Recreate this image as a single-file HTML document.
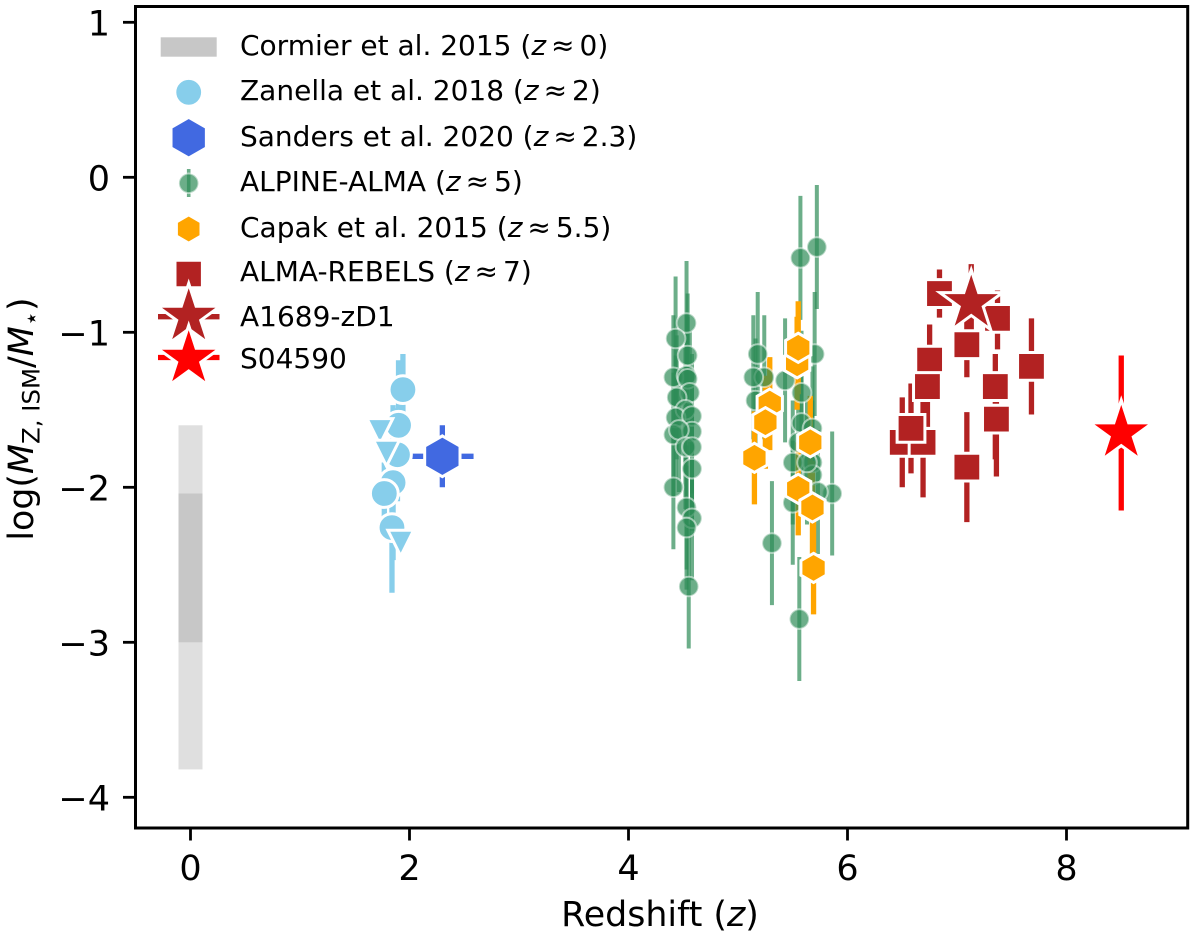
<!DOCTYPE html>
<html lang="en">
<head>
<meta charset="utf-8">
<title>Dust to stellar mass ratio vs redshift</title>
<style>
html,body{margin:0;padding:0;background:#fff;}
svg{display:block;}
text{font-family:"DejaVu Sans",sans-serif;fill:#000;}
.it{font-style:italic;}
</style>
</head>
<body>
<svg id="chart" xmlns="http://www.w3.org/2000/svg" width="1200" height="942" viewBox="0 0 1200 942">
  <rect x="0" y="0" width="1200" height="942" fill="#fff"/>
  <g id="bands"></g>
  <g id="errs"></g>
  <g id="marks"></g>
  <rect x="135.5" y="6.5" width="1052.2" height="821.5" fill="none" stroke="#000" stroke-width="3"/>
  <g id="ticks"></g>
  <text x="660" y="926" font-size="34.8" text-anchor="middle">Redshift (<tspan class="it">z</tspan>)</text>
  <text transform="translate(33,419) rotate(-90)" font-size="34.8" text-anchor="middle">log(<tspan class="it">M</tspan><tspan font-size="24.4" dy="6.5">Z, ISM</tspan><tspan dy="-6.5">/</tspan><tspan class="it">M</tspan><tspan font-size="24.4" dy="6.5">⋆</tspan><tspan dy="-6.5">)</tspan></text>
  <g id="legend-handles"></g>
  <g font-size="28">
    <text x="240" y="55">Cormier et al. 2015 (<tspan class="it">z</tspan><tspan dx="5">≈</tspan><tspan dx="5">0</tspan>)</text>
    <text x="240" y="100">Zanella et al. 2018 (<tspan class="it">z</tspan><tspan dx="5">≈</tspan><tspan dx="5">2</tspan>)</text>
    <text x="240" y="146">Sanders et al. 2020 (<tspan class="it">z</tspan><tspan dx="5">≈</tspan><tspan dx="5">2.3</tspan>)</text>
    <text x="240" y="191">ALPINE-ALMA (<tspan class="it">z</tspan><tspan dx="5">≈</tspan><tspan dx="5">5</tspan>)</text>
    <text x="240" y="237">Capak et al. 2015 (<tspan class="it">z</tspan><tspan dx="5">≈</tspan><tspan dx="5">5.5</tspan>)</text>
    <text x="240" y="281">ALMA-REBELS (<tspan class="it">z</tspan><tspan dx="5">≈</tspan><tspan dx="5">7</tspan>)</text>
    <text x="240" y="326">A1689-zD1</text>
    <text x="240" y="368">S04590</text>
  </g>
</svg>
<script>
// ---- chart data ----
const xTicks = [0, 2, 4, 6, 8];
const yTicks = [1, 0, -1, -2, -3, -4];

const cormierLow = [-3.0, -3.82];
const cormierHigh = [-1.6, -2.04];
const cormierZ = [0, 0];

const zanellaZ = [1.94, 1.90, 1.89, 1.85, 1.77, 1.84];
const zanellaY = [-1.37, -1.60, -1.79, -1.97, -2.04, -2.26];
const zanellaErr = [0.23, 0.42, 0.30, 0.50, 0.20, 0.42];
const zanellaLimitZ = [1.73, 1.79, 1.92];
const zanellaLimitY = [-1.64, -1.78, -2.36];

const sandersZ = [2.30];
const sandersY = [-1.80];
const sandersErrZ = [0.285];
const sandersErrY = [0.20];

const alpineZ = [4.53, 4.43, 4.54, 4.41, 4.53, 4.54, 4.56, 4.44, 4.52, 4.43, 4.58, 4.41, 4.58, 4.46, 4.52, 4.58, 4.58, 4.41, 4.53, 4.58, 4.53, 4.55,
                 5.18, 5.24, 5.14, 5.16, 5.57, 5.72, 5.70, 5.43, 5.58, 5.58, 5.68, 5.31, 5.56, 5.86, 5.68, 5.50, 5.68, 5.73, 5.55, 5.50, 5.63];
const alpineY = [-0.94, -1.04, -1.15, -1.29, -1.28, -1.30, -1.39, -1.42, -1.50, -1.55, -1.54, -1.66, -1.64, -1.63, -1.74, -1.74, -1.88, -2.00, -2.13, -2.20, -2.26, -2.64,
                 -1.14, -1.29, -1.29, -1.44, -0.52, -0.45, -1.14, -1.31, -1.39, -1.585, -1.62, -2.36, -2.85, -2.04, -1.84, -1.84, -1.92, -2.03, -1.71, -2.10, -1.84];
const alpineErr = 0.4;

const capakZ = [5.54, 5.55, 5.29, 5.25, 5.66, 5.15, 5.55, 5.68, 5.69];
const capakY = [-1.20, -1.10, -1.46, -1.58, -1.71, -1.81, -2.01, -2.13, -2.52];
const capakErr = 0.3;

const rebelsZ = [6.84, 7.37, 6.75, 7.09, 6.73, 7.68, 7.35, 7.36, 6.50, 6.69, 6.58, 7.09];
const rebelsY = [-0.75, -0.91, -1.18, -1.08, -1.35, -1.22, -1.35, -1.56, -1.71, -1.71, -1.62, -1.87];
const rebelsErrUp = [0.155, 0.18, 0.23, 0.22, 0.26, 0.31, 0.21, 0.20, 0.29, 0.26, 0.29, 0.355];
const rebelsErrDown = [0.155, 0.20, 0.23, 0.21, 0.26, 0.31, 0.47, 0.37, 0.29, 0.355, 0.29, 0.355];

const a1689Z = [7.13];
const a1689Y = [-0.81];
const a1689Err = [0.25];

const s04590Z = [8.50];
const s04590Y = [-1.65];
const s04590Err = [0.50];

// ---- axis functions ----
const X0 = 190.5, XS = 109.5, Y0 = 177.3, YS = 155;
function sx(z) { return X0 + XS * z; }
function sy(v) { return Y0 - YS * v; }

const NS = 'http://www.w3.org/2000/svg';
const bandsG = document.getElementById('bands');
const errsG = document.getElementById('errs');
const marksG = document.getElementById('marks');
const ticksG = document.getElementById('ticks');
const legendG = document.getElementById('legend-handles');

function seg(parent, name, x1, y1, x2, y2, color, w, op) {
  const el = document.createElementNS(NS, 'line');
  
  
  el.setAttribute('x1', x1);
  el.setAttribute('y1', y1);
  el.setAttribute('x2', x2);
  el.setAttribute('y2', y2);
  el.setAttribute('stroke', color);
  el.setAttribute('stroke-width', w);
  if (op < 1) el.setAttribute('stroke-opacity', op);
  parent.appendChild(el);
  return el;
}

function polyPoints(kind, cx, cy, r) {
  const pts = [];
  if (kind === 'hex') {
    for (let i = 0; i < 6; i++) {
      const a = Math.PI / 3 * i - Math.PI / 2;
      pts.push((cx + r * Math.cos(a)).toFixed(2) + ',' + (cy + r * Math.sin(a)).toFixed(2));
    }
  } else if (kind === 'star') {
    for (let i = 0; i < 10; i++) {
      const a = Math.PI / 5 * i - Math.PI / 2;
      const q = i % 2 === 0 ? r : r * 0.381966;
      pts.push((cx + q * Math.cos(a)).toFixed(2) + ',' + (cy + q * Math.sin(a)).toFixed(2));
    }
  } else if (kind === 'tri') {
    pts.push((cx - r) + ',' + (cy - r), (cx + r) + ',' + (cy - r), cx + ',' + (cy + r));
  } else {
    pts.push((cx - r) + ',' + (cy - r), (cx + r) + ',' + (cy - r), (cx + r) + ',' + (cy + r), (cx - r) + ',' + (cy + r));
  }
  return pts.join(' ');
}

function marker(parent, name, kind, cx, cy, r, color, sw, op) {
  const el = document.createElementNS(NS, kind === 'circle' ? 'circle' : 'polygon');
  
  
  if (kind === 'circle') {
    el.setAttribute('cx', cx);
    el.setAttribute('cy', cy);
    el.setAttribute('r', r);
  } else {
    el.setAttribute('points', polyPoints(kind, cx, cy, r));
    el.setAttribute('stroke-linejoin', 'miter');
    el.setAttribute('stroke-miterlimit', '10');
  }
  el.setAttribute('fill', color);
  el.setAttribute('stroke', '#fff');
  el.setAttribute('stroke-width', sw);
  if (op < 1) {
    el.setAttribute('fill-opacity', op);
    el.setAttribute('stroke-opacity', op * 0.75);
  }
  parent.appendChild(el);
  return el;
}

function label(parent, name, x, y, size, anchor, str) {
  const el = document.createElementNS(NS, 'text');
  
  
  el.setAttribute('x', x);
  el.setAttribute('y', y);
  el.setAttribute('font-size', size);
  el.setAttribute('text-anchor', anchor);
  el.textContent = str;
  parent.appendChild(el);
}

// ---- Cormier bands ----
cormierZ.forEach(function (z, i) {
  const el = document.createElementNS(NS, 'rect');
  
  
  el.setAttribute('x', sx(z) - 12);
  el.setAttribute('width', 24);
  el.setAttribute('y', sy(cormierHigh[i]));
  el.setAttribute('height', sy(cormierLow[i]) - sy(cormierHigh[i]));
  el.setAttribute('fill', '#808080');
  el.setAttribute('fill-opacity', '0.25');
  bandsG.appendChild(el);
});

// ---- error bars (all under markers) ----
zanellaZ.forEach(function (z, i) {
  seg(errsG, 'zanella-error-bar', sx(z), sy(zanellaY[i] + zanellaErr[i]), sx(z), sy(zanellaY[i] - zanellaErr[i]), '#87ceeb', 5.3, 1);
});
sandersZ.forEach(function (z, i) {
  seg(errsG, 'sanders-x-error-bar', sx(z - sandersErrZ[i]), sy(sandersY[i]), sx(z + sandersErrZ[i]), sy(sandersY[i]), '#4169e1', 5.3, 1);
  seg(errsG, 'sanders-y-error-bar', sx(z), sy(sandersY[i] + sandersErrY[i]), sx(z), sy(sandersY[i] - sandersErrY[i]), '#4169e1', 5.3, 1);
});
alpineZ.forEach(function (z, i) {
  seg(errsG, 'alpine-error-bar', sx(z), sy(alpineY[i] + alpineErr), sx(z), sy(alpineY[i] - alpineErr), '#2e8b57', 4, 0.7);
});
capakZ.forEach(function (z, i) {
  seg(errsG, 'capak-error-bar', sx(z), sy(capakY[i] + capakErr), sx(z), sy(capakY[i] - capakErr), '#ffa500', 5.3, 1);
});
rebelsZ.forEach(function (z, i) {
  seg(errsG, 'rebels-error-bar', sx(z), sy(rebelsY[i] + rebelsErrUp[i]), sx(z), sy(rebelsY[i] - rebelsErrDown[i]), '#b22222', 5.3, 1);
});
a1689Z.forEach(function (z, i) {
  seg(errsG, 'a1689-error-bar', sx(z), sy(a1689Y[i] + a1689Err[i]), sx(z), sy(a1689Y[i] - a1689Err[i]), '#b22222', 5.3, 1);
});
s04590Z.forEach(function (z, i) {
  seg(errsG, 's04590-error-bar', sx(z), sy(s04590Y[i] + s04590Err[i]), sx(z), sy(s04590Y[i] - s04590Err[i]), '#ff0000', 5.3, 1);
});

// ---- markers ----
zanellaZ.forEach(function (z, i) {
  marker(marksG, 'zanella-point', 'circle', sx(z), sy(zanellaY[i]), 13.9, '#87ceeb', 3, 1);
});
zanellaLimitZ.forEach(function (z, i) {
  marker(marksG, 'zanella-upper-limit', 'tri', sx(z), sy(zanellaLimitY[i]), 12.9, '#87ceeb', 3, 1);
});
sandersZ.forEach(function (z, i) {
  marker(marksG, 'sanders-point', 'hex', sx(z), sy(sandersY[i]), 20.4, '#4169e1', 3, 1);
});
alpineZ.forEach(function (z, i) {
  marker(marksG, 'alpine-point', 'circle', sx(z), sy(alpineY[i]), 9.8, '#2e8b57', 2, 0.7);
});
capakZ.forEach(function (z, i) {
  marker(marksG, 'capak-point', 'hex', sx(z), sy(capakY[i]), 14.6, '#ffa500', 3, 1);
});
rebelsZ.forEach(function (z, i) {
  marker(marksG, 'rebels-point', 'square', sx(z), sy(rebelsY[i]), 13.9, '#b22222', 3, 1);
});
a1689Z.forEach(function (z, i) {
  marker(marksG, 'a1689-star', 'star', sx(z), sy(a1689Y[i]), 33, '#b22222', 3, 1);
});
s04590Z.forEach(function (z, i) {
  marker(marksG, 's04590-star', 'star', sx(z), sy(s04590Y[i]), 33, '#ff0000', 3, 1);
});

// ---- ticks ----
xTicks.forEach(function (t) {
  seg(ticksG, 'x-tick', sx(t), 828, sx(t), 840.5, '#000', 2.8, 1);
  label(ticksG, 'x-tick-label', sx(t), 880, 35, 'middle', String(t));
});
yTicks.forEach(function (t) {
  seg(ticksG, 'y-tick', 135.5, sy(t), 123, sy(t), '#000', 2.8, 1);
  label(ticksG, 'y-tick-label', 110, sy(t) + 13, 35, 'end', String(t).replace('-', '\u2212'));
});

// ---- legend handles ----
const lg = document.createElementNS(NS, 'rect');


lg.setAttribute('x', 160.7);
lg.setAttribute('y', 37.3);
lg.setAttribute('width', 56);
lg.setAttribute('height', 19.4);
lg.setAttribute('fill', '#c7c7c7');
legendG.appendChild(lg);
marker(legendG, 'legend-handle-zanella', 'circle', 188.7, 92.3, 13.9, '#87ceeb', 3, 1);
marker(legendG, 'legend-handle-sanders', 'hex', 188.7, 137.7, 20.4, '#4169e1', 3, 1);
seg(legendG, 'legend-handle-alpine-bar', 188.7, 169, 188.7, 197, '#2e8b57', 3.6, 0.7);
marker(legendG, 'legend-handle-alpine', 'circle', 188.7, 183.3, 9.8, '#2e8b57', 2, 0.7);
marker(legendG, 'legend-handle-capak', 'hex', 188.7, 229, 14.2, '#ffa500', 3, 1);
marker(legendG, 'legend-handle-rebels', 'square', 188.7, 274, 13.7, '#b22222', 3, 1);
seg(legendG, 'legend-handle-a1689-bar', 158, 316.7, 219.5, 316.7, '#b22222', 5.3, 1);
marker(legendG, 'legend-handle-a1689', 'star', 188.7, 316.4, 33, '#b22222', 3, 1);
seg(legendG, 'legend-handle-s04590-bar', 158, 357.5, 219.5, 357.5, '#ff0000', 5.3, 1);
marker(legendG, 'legend-handle-s04590', 'star', 188.7, 358.4, 33, '#ff0000', 3, 1);
</script>
</body>
</html>
